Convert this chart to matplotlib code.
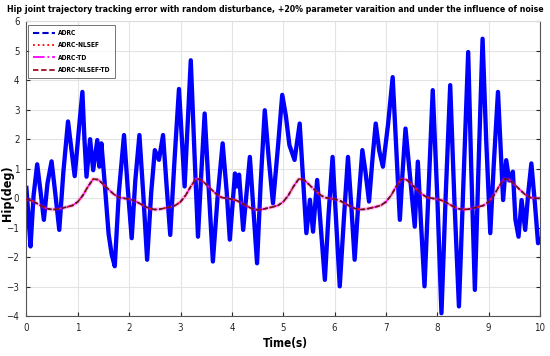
import numpy as np
import matplotlib
matplotlib.use("Agg")
import matplotlib.pyplot as plt
from matplotlib.lines import Line2D
from matplotlib import font_manager

names = {f.name for f in font_manager.fontManager.ttflist}
if "Liberation Sans Narrow" in names:
    FAM, STRETCH = "Liberation Sans Narrow", 'normal'
else:
    FAM, STRETCH = "DejaVu Sans", 'condensed'
plt.rcParams['font.family'] = [FAM, 'DejaVu Sans']
plt.rcParams['font.stretch'] = STRETCH

# ---------------- data ----------------
blue_t = [0.00, 0.04, 0.08, 0.14, 0.21, 0.27, 0.34, 0.41, 0.49, 0.56, 0.64, 0.72, 0.81, 0.88, 0.94,
          1.02, 1.09, 1.13, 1.17, 1.24, 1.30, 1.38, 1.42, 1.46, 1.52, 1.60, 1.66, 1.72, 1.80, 1.90,
          1.97, 2.05, 2.12, 2.20, 2.28, 2.35, 2.43, 2.50, 2.58, 2.66, 2.73, 2.80, 2.88, 2.97, 3.02,
          3.08, 3.14, 3.20, 3.27, 3.34, 3.40, 3.47, 3.55, 3.63, 3.72, 3.82, 3.90, 3.96, 4.06, 4.10,
          4.14, 4.22, 4.35, 4.42, 4.49, 4.56, 4.64, 4.72, 4.80, 4.90, 4.98, 5.05, 5.12, 5.22, 5.32,
          5.38, 5.45, 5.52, 5.58, 5.66, 5.74, 5.81, 5.88, 5.96, 6.03, 6.10, 6.18, 6.26, 6.33, 6.39,
          6.46, 6.54, 6.60, 6.67, 6.74, 6.80, 6.87, 6.94, 7.04, 7.13, 7.20, 7.27, 7.32, 7.38, 7.47,
          7.56, 7.62, 7.68, 7.75, 7.83, 7.91, 8.00, 8.08, 8.16, 8.25, 8.33, 8.42, 8.51, 8.60, 8.66,
          8.73, 8.80, 8.88, 8.95, 9.03, 9.10, 9.18, 9.23, 9.28, 9.34, 9.40, 9.47, 9.52, 9.58, 9.64,
          9.71, 9.77, 9.83, 9.90, 9.96, 10.00]
blue_v = [0.35, -0.60, -1.63, 0.10, 1.15, 0.30, -0.73, 0.50, 1.25, 0.20, -1.07, 0.90, 2.60, 1.60, 0.75,
          2.30, 3.60, 2.00, 0.73, 2.00, 0.95, 1.97, 1.07, 1.86, 0.60, -1.20, -1.90, -2.30, 0.20, 2.14,
          0.40, -1.35, 0.60, 2.14, 0.00, -2.08, 0.20, 1.63, 1.30, 2.14, 0.40, -1.24, 1.20, 3.70, 2.20,
          0.40, 2.50, 4.67, 1.60, -1.30, 0.70, 2.87, 0.30, -2.14, 0.00, 1.86, 0.20, -1.40, 0.84, 0.40,
          0.80, -1.07, 1.40, -0.40, -2.20, 0.50, 2.98, 1.30, -0.17, 1.80, 3.50, 2.80, 1.80, 1.30, 2.53,
          0.80, -1.18, -0.05, -1.13, 0.62, -1.20, -2.76, -0.60, 1.40, -0.80, -2.98, -0.70, 1.40, -0.40, -2.08,
          -0.20, 1.63, 0.90, -0.11, 1.40, 2.53, 1.60, 1.07, 2.50, 4.10, 1.70, -0.73, 0.80, 2.36, 0.70,
          -0.96, 1.24, -0.80, -2.98, 0.30, 3.66, 0.00, -3.89, 0.00, 3.83, 0.00, -3.66, 0.60, 4.95, 1.00,
          -3.10, 1.00, 5.40, 2.00, -1.18, 1.20, 3.60, 1.80, -0.06, 1.29, 0.60, 0.90, -0.73, -1.30, -0.06,
          -1.07, 0.20, 1.18, -0.20, -1.52, -1.40]

track_t = np.linspace(0, 10, 101)
track_v = [-0.03, -0.08, -0.17, -0.27, -0.35, -0.38, -0.37, -0.33, -0.29, -0.24,
           -0.12, 0.10, 0.40, 0.65, 0.63, 0.47, 0.30, 0.14, 0.03, 0.00,
           -0.03, -0.08, -0.17, -0.27, -0.35, -0.38, -0.37, -0.33, -0.29, -0.24,
           -0.12, 0.10, 0.40, 0.66, 0.63, 0.47, 0.30, 0.14, 0.03, 0.00,
           -0.03, -0.08, -0.17, -0.27, -0.36, -0.39, -0.37, -0.33, -0.29, -0.24,
           -0.12, 0.10, 0.40, 0.65, 0.63, 0.47, 0.30, 0.14, 0.03, 0.00,
           -0.03, -0.08, -0.17, -0.27, -0.35, -0.38, -0.37, -0.33, -0.29, -0.24,
           -0.12, 0.10, 0.40, 0.65, 0.63, 0.47, 0.30, 0.14, 0.03, 0.00,
           -0.03, -0.08, -0.17, -0.27, -0.35, -0.38, -0.37, -0.33, -0.29, -0.24,
           -0.12, 0.10, 0.40, 0.66, 0.63, 0.47, 0.30, 0.14, 0.03, 0.00, 0.00]

labels = ["ADRC", "ADRC-NLSEF", "ADRC-TD", "ADRC-NLSEF-TD"]
xticks = list(range(0, 11))
yticks = list(range(-4, 7))
title = "Hip joint trajectory tracking error with random disturbance, +20% parameter varaition and under the influence of noise"

# ---------------- plot ----------------
fig = plt.figure(figsize=(5.5, 3.56), dpi=100)
ax = fig.add_axes([0.048, 0.111, 0.934, 0.830])

ax.plot(blue_t, blue_v, color='#0000ff', lw=3.1, zorder=2)
ax.plot(track_t, track_v, color='#ff00ff', lw=3.0, alpha=0.22, zorder=3)
ax.plot(track_t, track_v, color='#ff00ff', lw=1.0, ls='-.', zorder=3)
ax.plot(track_t, track_v, color='#ff0000', lw=1.3, ls=':', zorder=4)
ax.plot(track_t, track_v, color='#5a1a10', lw=1.2, ls=(0, (3, 1.5)), zorder=5)

ax.set_xlim(0, 10)
ax.set_ylim(-4, 6)
ax.set_xticks(xticks)
ax.set_yticks(yticks)
ax.grid(True, color='#e3e3e3', lw=0.8)
ax.set_axisbelow(True)
ax.tick_params(direction='in', length=3, width=0.8, colors='#262626', labelsize=7, pad=5,
               top=False, right=True)
for s in ax.spines.values():
    s.set_color('#555555')
    s.set_linewidth(0.8)
ax.spines['top'].set_color('#dddddd')

t_title = fig.text(275 / 550, 1 - 10 / 356, title, ha='center', va='center',
                   fontsize=9, fontweight='bold')
t_x = fig.text(285 / 550, 1 - 344 / 356, "Time(s)", ha='center', va='center',
               fontsize=8.5, fontweight='bold')
t_y = fig.text(8 / 550, 1 - 193 / 356, "Hip(deg)", ha='center', va='center', rotation=90,
               fontsize=9, fontweight='bold')

handles = [Line2D([], [], color='#0000cc', lw=1.5, ls=(0, (3, 1.5))),
           Line2D([], [], color='#ff0000', lw=1.3, ls=':'),
           Line2D([], [], color='#ff00ff', lw=1.3, ls='-.'),
           Line2D([], [], color='#a01020', lw=1.3, ls=(0, (3, 1.5)))]
leg = ax.legend(handles, labels, loc='upper left', bbox_to_anchor=(0.001, 0.99),
                prop={'size': 4.8, 'weight': 'bold'}, frameon=True, fancybox=False,
                handlelength=3.3, handletextpad=0.5, borderpad=0.7, labelspacing=0.95,
                borderaxespad=0.2)
leg.get_frame().set_edgecolor('#333333')
leg.get_frame().set_linewidth(0.6)

# fit the long title into the figure width
fig.canvas.draw()
r = fig.canvas.get_renderer()
bb = t_title.get_window_extent(r)
t_title.set_fontsize(t_title.get_fontsize() * 538 / bb.width)

fig.savefig("out.png", dpi=100)
